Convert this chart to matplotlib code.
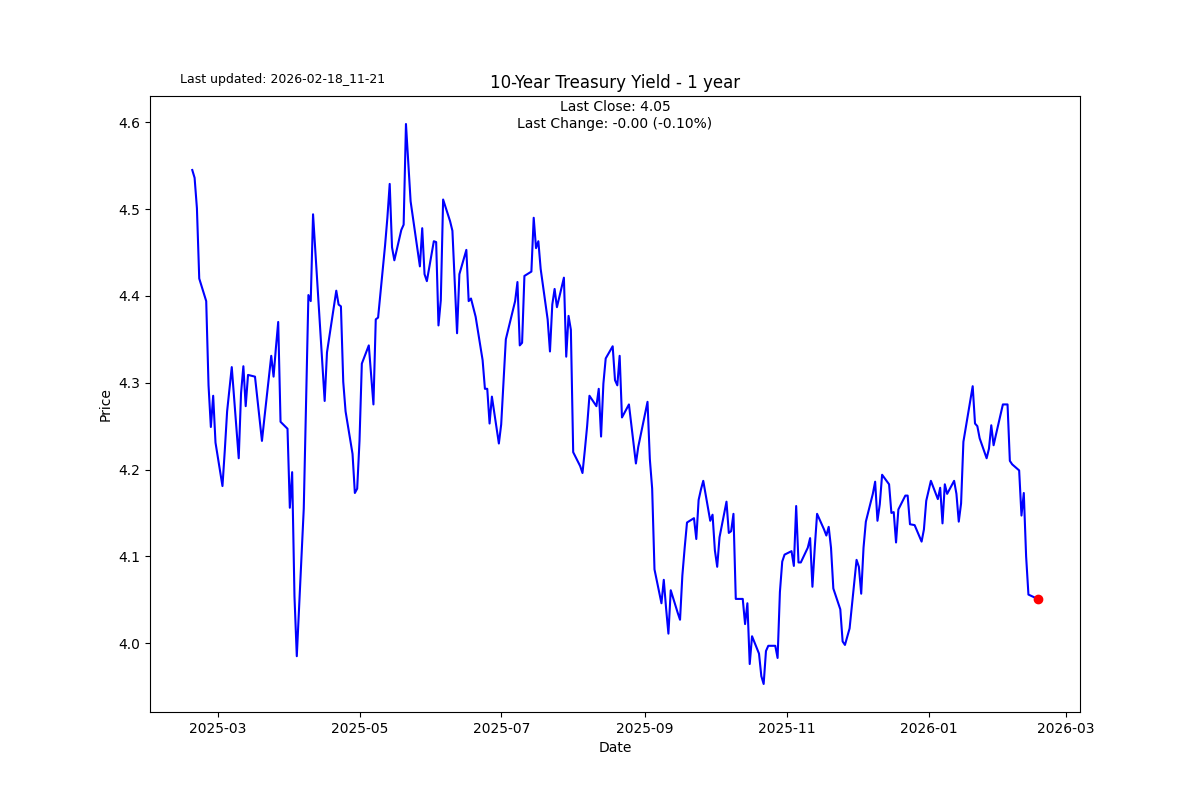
import matplotlib
matplotlib.use("Agg")
import matplotlib.pyplot as plt
import pandas as pd

# 10-year yield
dates = [
    "2025-02-18", "2025-02-19", "2025-02-20", "2025-02-21", "2025-02-24",
    "2025-02-25", "2025-02-26", "2025-02-27", "2025-02-28", "2025-03-03",
    "2025-03-04", "2025-03-05", "2025-03-06", "2025-03-07", "2025-03-10",
    "2025-03-11", "2025-03-12", "2025-03-13", "2025-03-14", "2025-03-17",
    "2025-03-18", "2025-03-19", "2025-03-20", "2025-03-21", "2025-03-24",
    "2025-03-25", "2025-03-26", "2025-03-27", "2025-03-28", "2025-03-31",
    "2025-04-01", "2025-04-02", "2025-04-03", "2025-04-04", "2025-04-07",
    "2025-04-08", "2025-04-09", "2025-04-10", "2025-04-11", "2025-04-14",
    "2025-04-15", "2025-04-16", "2025-04-17", "2025-04-21", "2025-04-22",
    "2025-04-23", "2025-04-24", "2025-04-25", "2025-04-28", "2025-04-29",
    "2025-04-30", "2025-05-01", "2025-05-02", "2025-05-05", "2025-05-06",
    "2025-05-07", "2025-05-08", "2025-05-09", "2025-05-12", "2025-05-13",
    "2025-05-14", "2025-05-15", "2025-05-16", "2025-05-19", "2025-05-20",
    "2025-05-21", "2025-05-22", "2025-05-23", "2025-05-27", "2025-05-28",
    "2025-05-29", "2025-05-30", "2025-06-02", "2025-06-03", "2025-06-04",
    "2025-06-05", "2025-06-06", "2025-06-09", "2025-06-10", "2025-06-11",
    "2025-06-12", "2025-06-13", "2025-06-16", "2025-06-17", "2025-06-18",
    "2025-06-20", "2025-06-23", "2025-06-24", "2025-06-25", "2025-06-26",
    "2025-06-27", "2025-06-30", "2025-07-01", "2025-07-02", "2025-07-03",
    "2025-07-07", "2025-07-08", "2025-07-09", "2025-07-10", "2025-07-11",
    "2025-07-14", "2025-07-15", "2025-07-16", "2025-07-17", "2025-07-18",
    "2025-07-21", "2025-07-22", "2025-07-23", "2025-07-24", "2025-07-25",
    "2025-07-28", "2025-07-29", "2025-07-30", "2025-07-31", "2025-08-01",
    "2025-08-04", "2025-08-05", "2025-08-06", "2025-08-07", "2025-08-08",
    "2025-08-11", "2025-08-12", "2025-08-13", "2025-08-14", "2025-08-15",
    "2025-08-18", "2025-08-19", "2025-08-20", "2025-08-21", "2025-08-22",
    "2025-08-25", "2025-08-26", "2025-08-27", "2025-08-28", "2025-08-29",
    "2025-09-02", "2025-09-03", "2025-09-04", "2025-09-05", "2025-09-08",
    "2025-09-09", "2025-09-10", "2025-09-11", "2025-09-12", "2025-09-15",
    "2025-09-16", "2025-09-17", "2025-09-18", "2025-09-19", "2025-09-22",
    "2025-09-23", "2025-09-24", "2025-09-25", "2025-09-26", "2025-09-29",
    "2025-09-30", "2025-10-01", "2025-10-02", "2025-10-03", "2025-10-06",
    "2025-10-07", "2025-10-08", "2025-10-09", "2025-10-10", "2025-10-13",
    "2025-10-14", "2025-10-15", "2025-10-16", "2025-10-17", "2025-10-20",
    "2025-10-21", "2025-10-22", "2025-10-23", "2025-10-24", "2025-10-27",
    "2025-10-28", "2025-10-29", "2025-10-30", "2025-10-31", "2025-11-03",
    "2025-11-04", "2025-11-05", "2025-11-06", "2025-11-07", "2025-11-10",
    "2025-11-11", "2025-11-12", "2025-11-13", "2025-11-14", "2025-11-17",
    "2025-11-18", "2025-11-19", "2025-11-20", "2025-11-21", "2025-11-24",
    "2025-11-25", "2025-11-26", "2025-11-28", "2025-12-01", "2025-12-02",
    "2025-12-03", "2025-12-04", "2025-12-05", "2025-12-08", "2025-12-09",
    "2025-12-10", "2025-12-11", "2025-12-12", "2025-12-15", "2025-12-16",
    "2025-12-17", "2025-12-18", "2025-12-19", "2025-12-22", "2025-12-23",
    "2025-12-24", "2025-12-26", "2025-12-29", "2025-12-30", "2025-12-31",
    "2026-01-02", "2026-01-05", "2026-01-06", "2026-01-07", "2026-01-08",
    "2026-01-09", "2026-01-12", "2026-01-13", "2026-01-14", "2026-01-15",
    "2026-01-16", "2026-01-20", "2026-01-21", "2026-01-22", "2026-01-23",
    "2026-01-26", "2026-01-27", "2026-01-28", "2026-01-29", "2026-01-30",
    "2026-02-02", "2026-02-03", "2026-02-04", "2026-02-05", "2026-02-06",
    "2026-02-09", "2026-02-10", "2026-02-11", "2026-02-12", "2026-02-13",
    "2026-02-17",
]

closes = [
    4.545, 4.536, 4.501, 4.420, 4.394,
    4.297, 4.249, 4.285, 4.231, 4.181,
    4.222, 4.267, 4.292, 4.318, 4.213,
    4.288, 4.319, 4.273, 4.309, 4.307,
    4.282, 4.257, 4.233, 4.258, 4.331,
    4.307, 4.340, 4.370, 4.255, 4.247,
    4.156, 4.197, 4.054, 3.985, 4.155,
    4.280, 4.401, 4.394, 4.494, 4.365,
    4.322, 4.279, 4.335, 4.406, 4.390,
    4.388, 4.301, 4.267, 4.218, 4.173,
    4.178, 4.233, 4.322, 4.343, 4.309,
    4.275, 4.373, 4.375, 4.458, 4.490,
    4.529, 4.456, 4.441, 4.476, 4.482,
    4.598, 4.553, 4.509, 4.434, 4.478,
    4.425, 4.417, 4.463, 4.462, 4.366,
    4.395, 4.511, 4.486, 4.475, 4.416,
    4.357, 4.425, 4.453, 4.394, 4.397,
    4.376, 4.326, 4.293, 4.293, 4.253,
    4.284, 4.230, 4.252, 4.301, 4.350,
    4.394, 4.416, 4.343, 4.346, 4.423,
    4.428, 4.490, 4.455, 4.463, 4.431,
    4.373, 4.336, 4.390, 4.408, 4.387,
    4.421, 4.330, 4.377, 4.361, 4.220,
    4.204, 4.196, 4.222, 4.250, 4.285,
    4.273, 4.293, 4.238, 4.299, 4.328,
    4.342, 4.303, 4.297, 4.331, 4.260,
    4.275, 4.252, 4.230, 4.207, 4.226,
    4.278, 4.212, 4.178, 4.085, 4.046,
    4.073, 4.040, 4.011, 4.061, 4.035,
    4.027, 4.078, 4.110, 4.139, 4.144,
    4.120, 4.165, 4.177, 4.187, 4.141,
    4.148, 4.107, 4.088, 4.122, 4.163,
    4.127, 4.129, 4.149, 4.051, 4.051,
    4.022, 4.046, 3.976, 4.008, 3.988,
    3.962, 3.953, 3.991, 3.997, 3.997,
    3.983, 4.059, 4.094, 4.102, 4.106,
    4.089, 4.158, 4.093, 4.093, 4.110,
    4.121, 4.065, 4.110, 4.149, 4.131,
    4.124, 4.134, 4.110, 4.063, 4.039,
    4.002, 3.998, 4.017, 4.096, 4.088,
    4.057, 4.110, 4.140, 4.172, 4.186,
    4.141, 4.160, 4.194, 4.183, 4.150,
    4.151, 4.116, 4.154, 4.170, 4.170,
    4.137, 4.136, 4.117, 4.131, 4.164,
    4.187, 4.166, 4.179, 4.138, 4.183,
    4.172, 4.187, 4.172, 4.140, 4.161,
    4.232, 4.296, 4.253, 4.250, 4.236,
    4.213, 4.224, 4.251, 4.228, 4.240,
    4.275, 4.275, 4.275, 4.210, 4.206,
    4.199, 4.147, 4.173, 4.100, 4.056,
    4.051,
]

title = "10-Year Treasury Yield - 1 year"
updated = "Last updated: 2026-02-18_11-21"
last_change = -0.00
last_change_pct = -0.10


def main():
    x = pd.to_datetime(dates)

    fig, ax = plt.subplots(figsize=(12, 8), dpi=100)
    ax.plot(x, closes, color="blue", linewidth=1.5)
    ax.scatter(x[-1], closes[-1], color="red", zorder=3)

    ax.set_title(title)
    ax.set_xlabel("Date")
    ax.set_ylabel("Price")

    info = (f"Last Close: {closes[-1]:.2f}\n"
            f"Last Change: {last_change:.2f} ({last_change_pct:.2f}%)")
    ax.text(0.5, 0.993, info, transform=ax.transAxes,
            ha="center", va="top", fontsize=10)
    fig.text(0.15, 0.896, updated, fontsize=9)

    fig.savefig("out.png")


if __name__ == "__main__":
    main()
